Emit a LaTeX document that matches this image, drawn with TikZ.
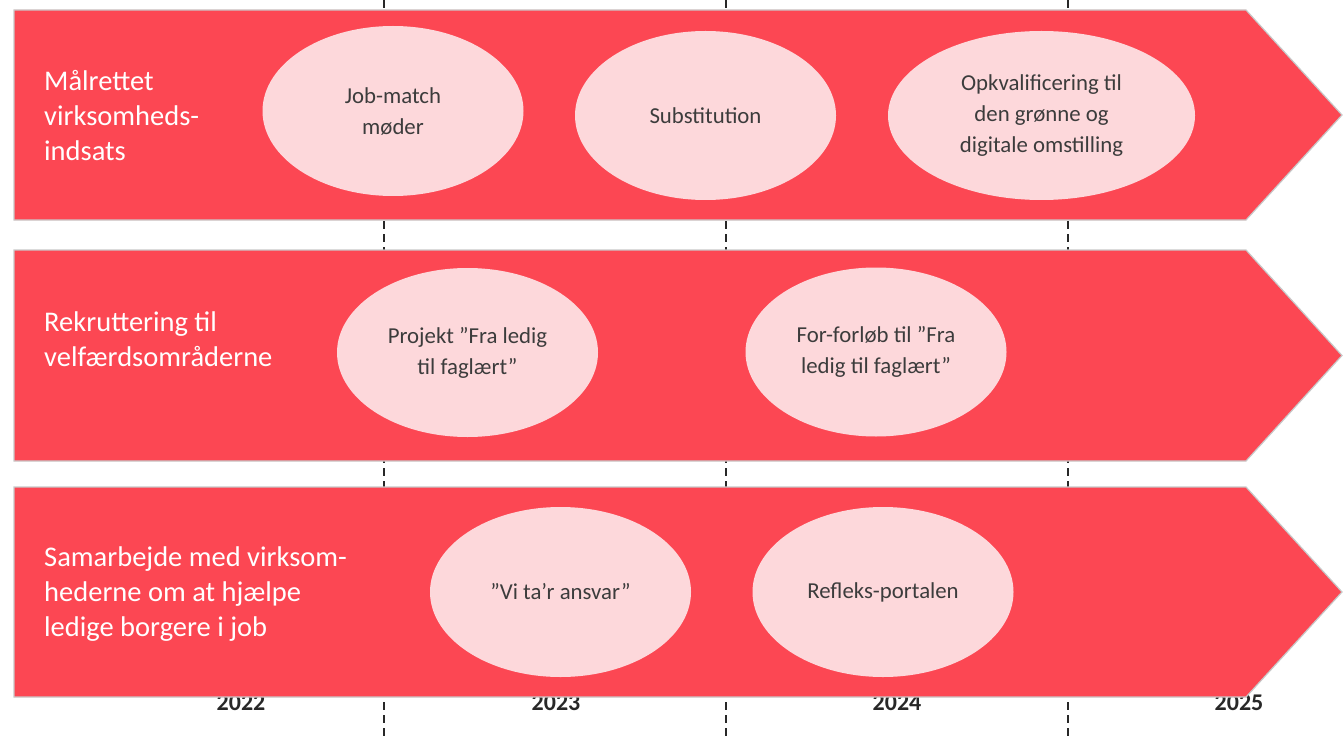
\documentclass[tikz,border=0pt]{standalone}
\usepackage{fontspec}
\setmainfont{Carlito}
\usetikzlibrary{shapes.geometric}
\definecolor{bandred}{RGB}{252,71,83}
\definecolor{bandgray}{RGB}{200,200,200}
\definecolor{bubblefill}{RGB}{253,216,219}
\definecolor{inktext}{RGB}{60,60,60}
\definecolor{yearink}{RGB}{40,40,40}
\tikzset{
  band/.style={fill=bandred, draw=bandgray, line width=1.2pt},
  bubble/.style={ellipse, fill=bubblefill, inner sep=0pt, text=inktext, align=center,
    font=\fontsize{22.8}{31}\selectfont, minimum width=261pt, minimum height=169pt},
  rowlabel/.style={anchor=west, align=left, text=white, inner sep=0pt,
    font=\fontsize{28.5}{35}\selectfont},
  yearlabel/.style={anchor=base, text=yearink, inner sep=0pt,
    font=\bfseries\fontsize{24}{28}\selectfont},
  yearline/.style={draw=yearink, line width=2pt, dash pattern=on 8pt off 5pt}
}
\begin{document}
\begin{tikzpicture}[x=1pt,y=-1pt]
\useasboundingbox (0,0) rectangle (1343,738);
% year labels (partly hidden behind the bottom band)
\node[yearlabel] (y22) at (241,710.5) {2022};
\node[yearlabel] (y23) at (556,710.5) {2023};
\node[yearlabel] (y24) at (897,710.5) {2024};
\node[yearlabel] (y25) at (1239,710.5) {2025};
% dashed year separators
\coordinate (d1t) at (384,0);   \coordinate (d1b) at (384,738);
\coordinate (d2t) at (726,0);   \coordinate (d2b) at (726,738);
\coordinate (d3t) at (1068,0);  \coordinate (d3b) at (1068,738);
\draw[yearline] (d1t) -- (d1b);
\draw[yearline] (d2t) -- (d2b);
\draw[yearline] (d3t) -- (d3b);
% bands
\path[band] (14,10) -- (1246,10) -- (1342,115) -- (1246,220) -- (14,220) -- cycle;
\path[band] (14,250) -- (1246,250) -- (1342,355.5) -- (1246,461) -- (14,461) -- cycle;
\path[band] (14,487) -- (1246,487) -- (1342,592) -- (1246,697) -- (14,697) -- cycle;
% row labels
\node[rowlabel] (r1) at (44,116) {Målrettet\\virksomheds-\\indsats};
\node[rowlabel] (r2) at (44,339) {Rekruttering til\\velfærdsområderne};
\node[rowlabel] (r3) at (44,594) {Samarbejde med virksom-\\hederne om at hjælpe\\ledige borgere i job};
% bubbles
\node[bubble, minimum height=170pt] (e11) at (393,111) {Job-match\\møder};
\node[bubble] (e12) at (705.5,115.5) {Substitution};
\node[bubble, minimum width=307pt] (e13) at (1041.5,115.5) {Opkvalificering til\\den grønne og\\digitale omstilling};
\node[bubble] (e21) at (467.5,352.5) {Projekt ”Fra ledig\\til faglært”};
\node[bubble] (e22) at (876,352) {For-forløb til ”Fra\\ledig til faglært”};
\node[bubble, minimum height=170pt] (e31) at (560.5,592) {”Vi ta’r ansvar”};
\node[bubble, minimum height=170pt] (e32) at (883,592) {Refleks-portalen};
\end{tikzpicture}
\end{document}
